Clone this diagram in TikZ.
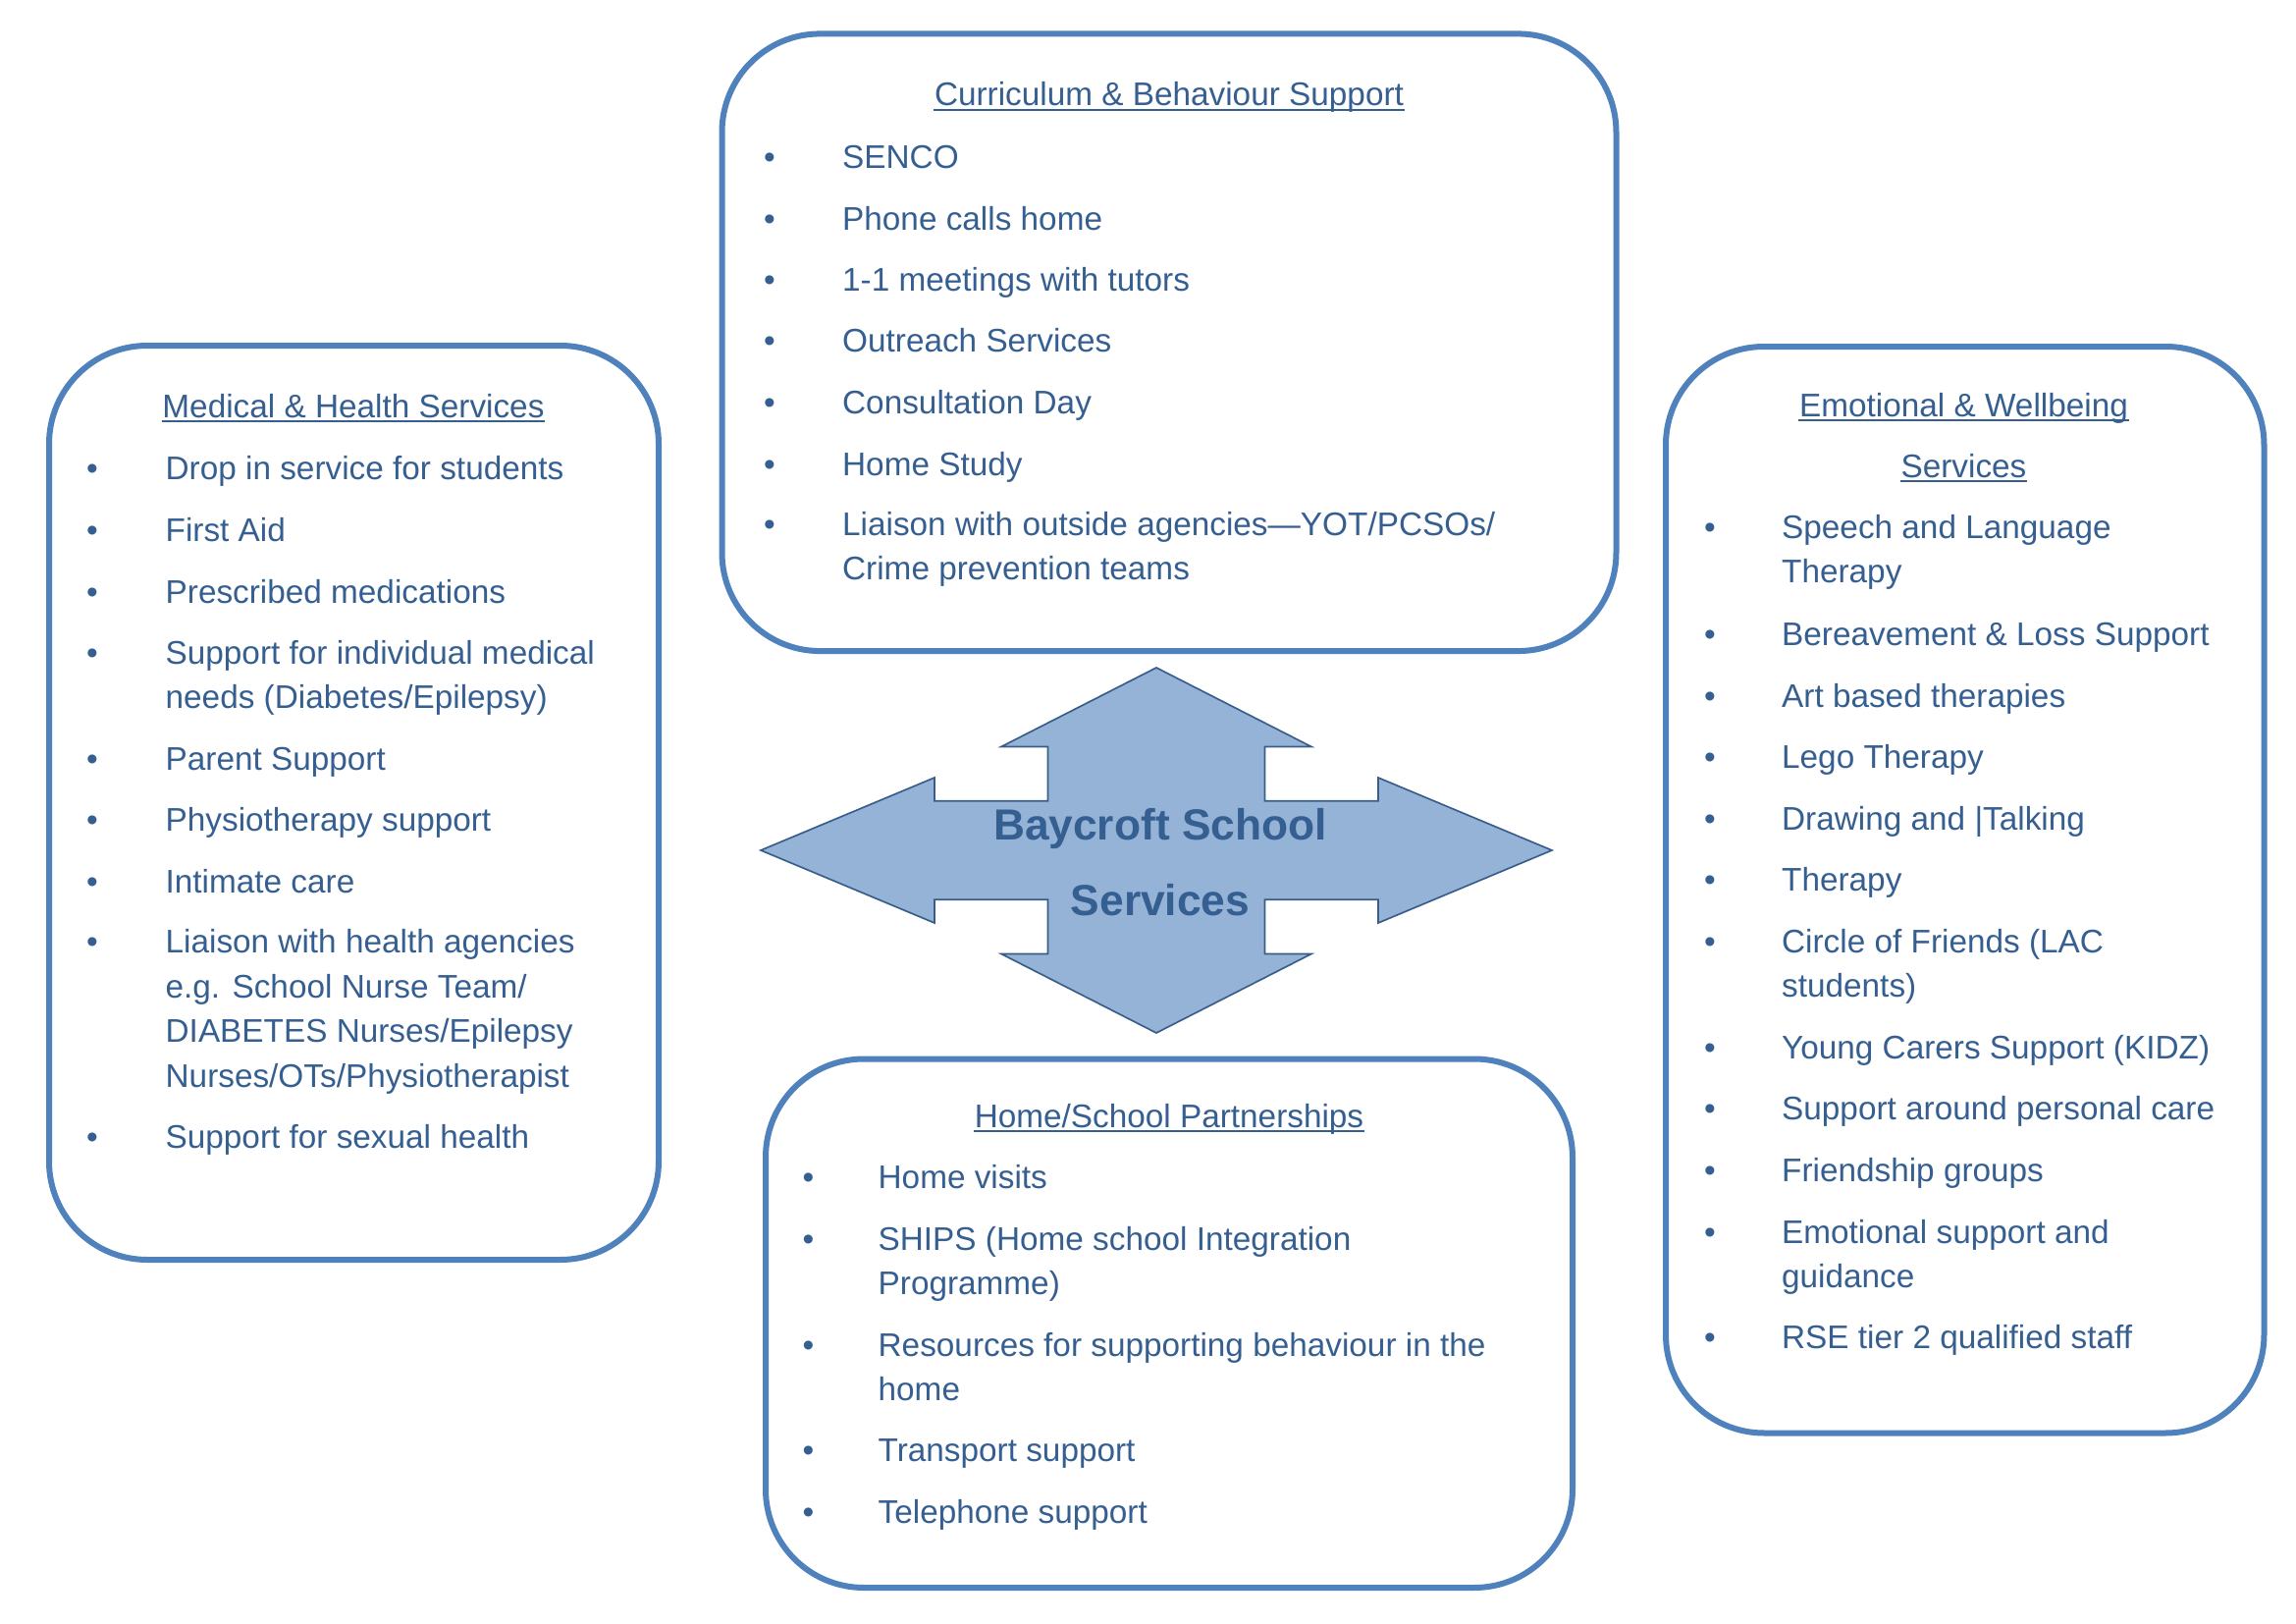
\documentclass[tikz,border=0pt]{standalone}
\usepackage{fontspec}
\setmainfont{Liberation Sans}
\definecolor{panelblue}{RGB}{79,129,189}
\definecolor{inkblue}{RGB}{54,95,145}
\definecolor{hubfill}{RGB}{149,179,215}
\definecolor{hubline}{RGB}{56,93,138}
\tikzset{
    panel/.style={rectangle, draw=panelblue, line width=1.8pt, rounded corners=30pt, fill=white},
    heading/.style={anchor=base, inner sep=0pt, text=inkblue, font=\fontsize{10}{13.5}\selectfont},
    entry/.style={anchor=base west, inner sep=0pt, text=inkblue, font=\fontsize{10}{13.5}\selectfont},
    dot/.style={anchor=base, inner sep=0pt, text=inkblue, font=\fontsize{10}{13.5}\selectfont},
    uline/.style={draw=inkblue, line width=0.6pt},
    hub/.style={fill=hubfill, draw=hubline, line width=0.5pt, line join=miter},
    hubtext/.style={anchor=base, inner sep=0pt, text=inkblue, font=\bfseries\fontsize{13.3}{16}\selectfont},
}
\begin{document}
\begin{tikzpicture}[x=0.3pt, y=-0.3pt]
    \useasboundingbox (0,0) rectangle (2339,1654);
    % the four panels
    \node[panel, minimum width=186.3pt, minimum height=279.3pt] (medical) at (360.5,817.5) {};
    \node[panel, minimum width=273.3pt, minimum height=188.6pt] (curriculum) at (1191,348.75) {};
    \node[panel, minimum width=182.85pt, minimum height=331.95pt] (emotional) at (2001.75,906.25) {};
    \node[panel, minimum width=246.6pt, minimum height=161.55pt] (home) at (1191,1347.75) {};

    % centre arrow
    \draw[hub, shift={(1178,866)}] (0,-186) -- (158,-105.5) -- (110.5,-105.5) -- (110.5,-50.3)
        -- (226,-50.3) -- (226,-74) -- (403,0) -- (226,74) -- (226,50.3) -- (110.5,50.3)
        -- (110.5,105.5) -- (158,105.5) -- (0,186) -- (-158,105.5) -- (-110.5,105.5)
        -- (-110.5,50.3) -- (-226,50.3) -- (-226,74) -- (-403,0) -- (-226,-74) -- (-226,-50.3)
        -- (-110.5,-50.3) -- (-110.5,-105.5) -- (-158,-105.5) -- cycle;
    \node[hubtext] (hub1) at (1182,855) {Baycroft School};
    \node[hubtext] (hub2) at (1182,932) {Services};

    % headings
    \node[heading] (medt) at (360,425.5) {Medical \& Health Services};
    \node[heading] (curt) at (1191,108) {Curriculum \& Behaviour Support};
    \node[heading] (emot) at (2000.5,424) {Emotional \& Wellbeing};
    \node[heading] (emot2) at (2000.5,486) {Services};
    \node[heading] (homet) at (1191,1148.5) {Home/School Partnerships};
    \foreach \n in {medt,curt,emot,emot2,homet}
        \draw[uline] ([yshift=-1.1pt]\n.base west) -- ([yshift=-1.1pt]\n.base east);

    % Medical & Health
    \foreach \y/\t [count=\i] in {489/{Drop in service for students}, 552/{First Aid},
        614/{Prescribed medications}, 676/{Support for individual medical},
        721/{needs (Diabetes/Epilepsy)}, 784/{Parent Support}, 846/{Physiotherapy support},
        909/{Intimate care}, 970/{Liaison with health agencies}, 1016/{e.g. School Nurse Team/},
        1061/{DIABETES Nurses/Epilepsy}, 1107/{Nurses/OTs/Physiotherapist},
        1169/{Support for sexual health}}
        \node[entry] (med\i) at (168,\y) {\t};
    \foreach \y [count=\i] in {489,552,614,676,784,846,909,970,1169}
        \node[dot] (medb\i) at (94,\y) {\textbullet};

    % Curriculum & Behaviour
    \foreach \y/\t [count=\i] in {171.5/{SENCO}, 234.5/{Phone calls home}, 296.5/{1-1 meetings with tutors},
        358.5/{Outreach Services}, 421.5/{Consultation Day}, 484/{Home Study},
        545/{Liaison with outside agencies—YOT/PCSOs/}, 590/{Crime prevention teams}}
        \node[entry] (cur\i) at (857.5,\y) {\t};
    \foreach \y [count=\i] in {171.5,234.5,296.5,358.5,421.5,484,545}
        \node[dot] (curb\i) at (784,\y) {\textbullet};

    % Emotional & Wellbeing
    \foreach \y/\t [count=\i] in {549/{Speech and Language}, 594/{Therapy},
        657/{Bereavement \& Loss Support}, 720/{Art based therapies}, 782/{Lego Therapy},
        845/{Drawing and |Talking}, 907/{Therapy}, 970/{Circle of Friends (LAC}, 1015/{students)},
        1078/{Young Carers Support (KIDZ)}, 1140/{Support around personal care},
        1203/{Friendship groups}, 1266/{Emotional support and}, 1311/{guidance},
        1373/{RSE tier 2 qualified staff}}
        \node[entry] (emo\i) at (1814.5,\y) {\t};
    \foreach \y [count=\i] in {549,657,720,782,845,907,970,1078,1140,1203,1266,1373}
        \node[dot] (emob\i) at (1742,\y) {\textbullet};

    % Home/School
    \foreach \y/\t [count=\i] in {1210/{Home visits}, 1273/{SHIPS (Home school Integration},
        1318/{Programme)}, 1381/{Resources for supporting behaviour in the}, 1426/{home},
        1488/{Transport support}, 1551/{Telephone support}}
        \node[entry] (hom\i) at (894,\y) {\t};
    \foreach \y [count=\i] in {1210,1273,1381,1488,1551}
        \node[dot] (homb\i) at (823.5,\y) {\textbullet};
\end{tikzpicture}
\end{document}
